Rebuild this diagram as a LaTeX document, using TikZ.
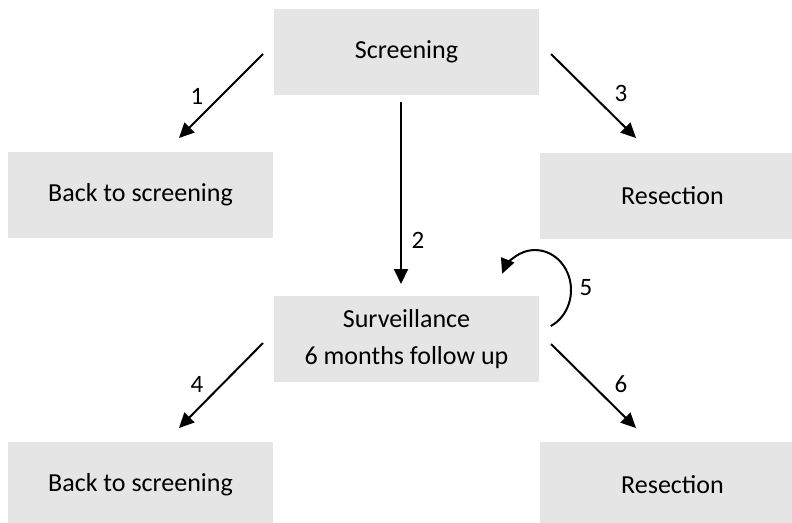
\documentclass[tikz,border=0pt]{standalone}
\usepackage{fontspec}
\setmainfont{Carlito}
\usetikzlibrary{arrows.meta}
\tikzset{
  state/.style={fill=black!10, minimum width=265pt, minimum height=86pt,
    inner sep=0pt, align=center, font=\fontsize{26}{37}\selectfont},
  arr/.style={line width=2pt, -{Triangle[length=15pt,width=14pt]}},
  num/.style={font=\fontsize{25}{30}\selectfont, inner sep=0pt}
}
\begin{document}
\begin{tikzpicture}[x=1pt, y=-1pt]
\useasboundingbox (0,0) rectangle (792,522);

% boxes
\node[state] (scr)  at (406.5, 52)  {Screening};
\node[state] (bts1) at (140.5, 195) {Back to screening};
\node[state] (res1) at (672.5, 196) {Resection};
\node[state] (surv) at (406.5, 339) {Surveillance\\6 months follow up};
\node[state] (bts2) at (140.5, 485) {Back to screening};
\node[state] (res2) at (672.5, 485) {Resection};

% arrow end points
\coordinate (a1s) at (263, 54);   \coordinate (a1e) at (179, 138);
\coordinate (a2s) at (401, 102);  \coordinate (a2e) at (401, 284);
\coordinate (a3s) at (551, 54);   \coordinate (a3e) at (636, 138);
\coordinate (a4s) at (263, 343);  \coordinate (a4e) at (179, 428);
\coordinate (a5s) at (550.8, 326);
\coordinate (a6s) at (551, 344);  \coordinate (a6e) at (636, 428);

% transitions
\draw[arr] (a1s) -- (a1e);
\draw[arr] (a2s) -- (a2e);
\draw[arr] (a3s) -- (a3e);
\draw[arr] (a4s) -- (a4e);
\draw[arr] (a5s) arc[start angle=64, end angle=-156, x radius=36, y radius=40];
\draw[arr] (a6s) -- (a6e);

% transition numbers
\node[num] (n1) at (197, 96)  {1};
\node[num] (n2) at (418, 240) {2};
\node[num] (n3) at (621, 93)  {3};
\node[num] (n4) at (197, 384) {4};
\node[num] (n5) at (586, 288) {5};
\node[num] (n6) at (621, 384) {6};
\end{tikzpicture}
\end{document}
